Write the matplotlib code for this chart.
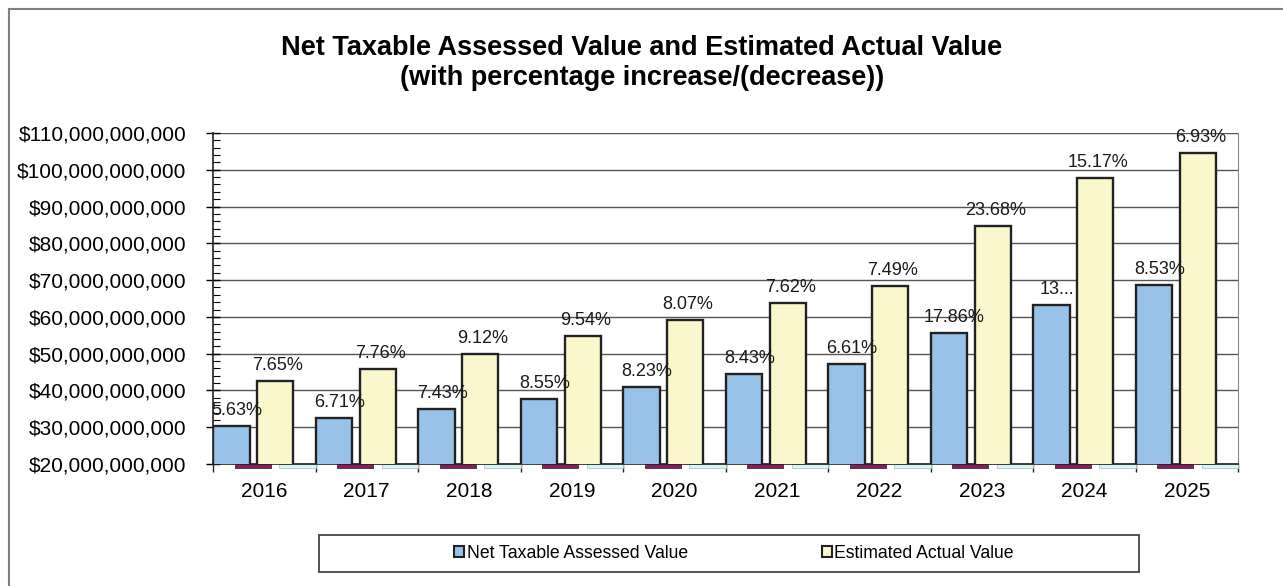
import matplotlib
matplotlib.use("Agg")
import matplotlib.pyplot as plt
import matplotlib.ticker as mticker
from matplotlib.patches import Rectangle, Patch
import matplotlib.transforms as mtrans
import numpy as np

plt.rcParams['font.family'] = ['Liberation Sans', 'DejaVu Sans']

years = ["2016", "2017", "2018", "2019", "2020", "2021", "2022", "2023", "2024", "2025"]
net_taxable = [30.4e9, 32.5e9, 35.0e9, 37.8e9, 41.0e9, 44.4e9, 47.3e9, 55.7e9, 63.2e9, 68.6e9]
estimated_actual = [42.5e9, 45.8e9, 50.0e9, 54.8e9, 59.2e9, 63.7e9, 68.5e9, 84.8e9, 97.7e9, 104.5e9]
net_pct_labels = ["5.63%", "6.71%", "7.43%", "8.55%", "8.23%", "8.43%", "6.61%", "17.86%", "13...", "8.53%"]
est_pct_labels = ["7.65%", "7.76%", "9.12%", "9.54%", "8.07%", "7.62%", "7.49%", "23.68%", "15.17%", "6.93%"]

W, H = 1283, 586
fig = plt.figure(figsize=(W / 100, H / 100), dpi=100)

# outer chart border
fig.patches.append(Rectangle((9 / W, -0.01), 1.0, 1 - 9 / H + 0.01, transform=fig.transFigure,
                             fill=False, edgecolor="#808080", linewidth=1.5))

ax = fig.add_axes([213 / W, (H - 464) / H, (1238 - 213) / W, (464 - 133) / H])

x = np.arange(len(years))
blue = "#99C2E8"
yellow = "#FAF7CD"
ax.bar(x + 0.0, net_taxable, width=0.36, align="edge", color=blue, edgecolor="#222222",
       linewidth=1.7, zorder=3, label="Net Taxable Assessed Value")
ax.bar(x + 0.43, estimated_actual, width=0.355, align="edge", color=yellow, edgecolor="#222222",
       linewidth=1.7, zorder=3, label="Estimated Actual Value")

# secondary (percentage) series drawn as thin strips just below the baseline
trans = mtrans.blended_transform_factory(ax.transData, ax.transAxes)
for i in range(len(years)):
    ax.add_patch(Rectangle((x[i] + 0.21, -0.011), 0.355, 0.011, transform=trans, clip_on=False,
                           facecolor="#8B1A5E", edgecolor="#333333", linewidth=0.6, zorder=2))
    ax.add_patch(Rectangle((x[i] + 0.645, -0.011), 0.355, 0.011, transform=trans, clip_on=False,
                           facecolor="#D8F4F4", edgecolor="#B0C8C8", linewidth=0.6, zorder=2))

# percentage labels
for i in range(len(years)):
    ax.annotate(net_pct_labels[i], (x[i] + 0.18, net_taxable[i]), xytext=(4, 5),
                textcoords="offset points", ha="center", va="bottom", fontsize=13, color="#1a1a1a", zorder=5)
    ax.annotate(est_pct_labels[i], (x[i] + 0.6075, estimated_actual[i]), xytext=(2, 5),
                textcoords="offset points", ha="center", va="bottom", fontsize=13, color="#1a1a1a", zorder=5)

ax.set_xlim(0, len(years))
ax.set_ylim(20e9, 110e9)
ax.yaxis.set_major_locator(mticker.MultipleLocator(10e9))
ax.yaxis.set_minor_locator(mticker.MultipleLocator(2e9))
ax.yaxis.set_major_formatter(mticker.FuncFormatter(lambda v, p: "${:,.0f}".format(v)))
ax.grid(axis="y", which="major", color="#555555", linewidth=1.0, zorder=0)

ax.set_xticks(np.arange(len(years) + 1))
ax.set_xticklabels([])
ax.set_xticks(x + 0.5, minor=True)
ax.set_xticklabels(years, minor=True, fontsize=15)
ax.tick_params(axis="x", which="major", direction="out", length=6, width=1, color="#222222")
ax.tick_params(axis="x", which="minor", length=0, pad=13)
ax.tick_params(axis="y", which="major", direction="inout", length=10, width=1, labelsize=15, pad=14)
ax.tick_params(axis="y", which="minor", direction="in", length=5, width=0.8)

for s in ["left", "bottom"]:
    ax.spines[s].set_color("#222222")
    ax.spines[s].set_linewidth(1.2)
ax.spines["right"].set_color("#888888")
ax.spines["top"].set_visible(False)

fig.text(642 / W, 1 - 48 / H, "Net Taxable Assessed Value and Estimated Actual Value",
         ha="center", va="center", fontsize=19.5, fontweight="bold")
fig.text(642 / W, 1 - 78 / H, "(with percentage increase/(decrease))",
         ha="center", va="center", fontsize=19.5, fontweight="bold")

# legend box
fig.patches.append(Rectangle((319 / W, (H - 572) / H), (1139 - 319) / W, 37 / H, transform=fig.transFigure,
                             fill=True, facecolor="white", edgecolor="#444444", linewidth=1.3))
handles = [Patch(facecolor=blue, edgecolor="#222222", linewidth=1.5),
           Patch(facecolor=yellow, edgecolor="#222222", linewidth=1.5)]
leg = fig.legend(handles, ["Net Taxable Assessed Value", "Estimated Actual Value"],
                 loc="center", bbox_to_anchor=(734 / W, 1 - 553 / H), ncol=2, frameon=False,
                 handlelength=0.55, handleheight=0.55, handletextpad=0.15, columnspacing=7.6,
                 prop={"size": 12.7})

fig.savefig("out.png", dpi=100)
